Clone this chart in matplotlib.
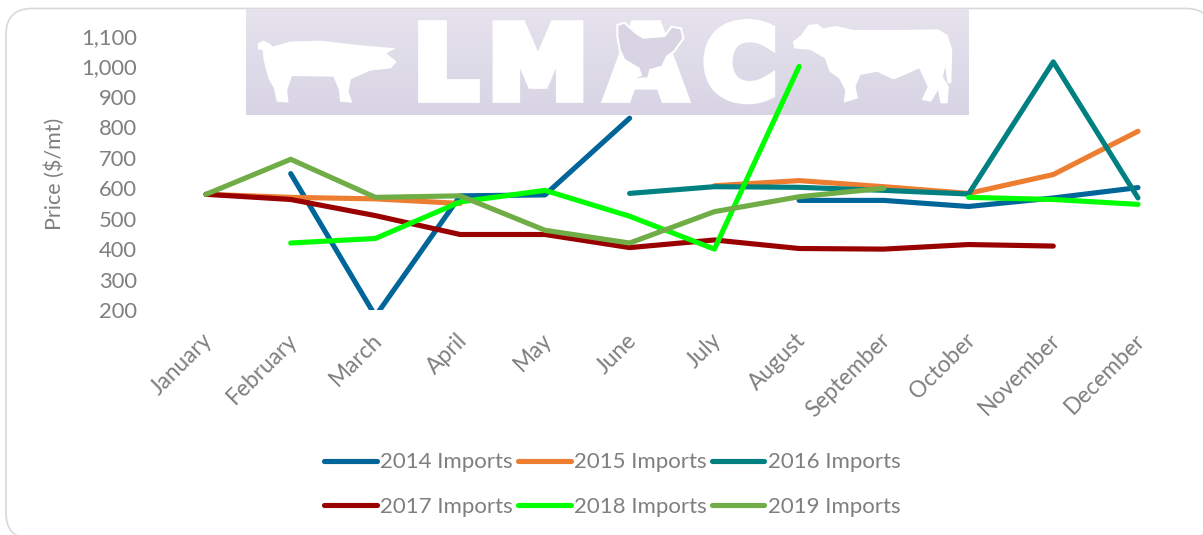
import numpy as np
import matplotlib
matplotlib.use("Agg")
import matplotlib.pyplot as plt
import matplotlib.patheffects as pe
from matplotlib.patches import FancyBboxPatch, Polygon
from matplotlib.transforms import ScaledTranslation

plt.rcParams['font.family'] = ['Lato', 'DejaVu Sans']

W, H = 1203, 535
nan = np.nan

months = ["January", "February", "March", "April", "May", "June", "July",
          "August", "September", "October", "November", "December"]
y_ticks = [200, 300, 400, 500, 600, 700, 800, 900, 1000, 1100]

imports_2014 = [nan, 648, 180, 575, 578, 830, nan, 560, 560, 540, 568, 602]
imports_2015 = [580, 570, 565, 550, nan, nan, 608, 625, 605, 583, 645, 787]
imports_2016 = [nan, nan, nan, nan, nan, 583, 605, 603, 593, 581, 1015, 568]
imports_2017 = [580, 563, 510, 448, 448, 405, 430, 402, 400, 415, 410, nan]
imports_2018 = [nan, 420, 435, 555, 593, 508, 400, 1000, nan, 570, 563, 547]
imports_2019 = [580, 695, 570, 575, 462, 420, 523, 572, 600, nan, nan, nan]

series_names = ["2014 Imports", "2015 Imports", "2016 Imports",
                "2017 Imports", "2018 Imports", "2019 Imports"]
series_vals = [imports_2014, imports_2015, imports_2016,
               imports_2017, imports_2018, imports_2019]
series_cols = ["#006699", "#ED7D31", "#008080", "#990000", "#00FF00", "#70AD47"]

grey = "#7F7F7F"

fig = plt.figure(figsize=(W / 100, H / 100), dpi=100)

# background layer in pixel coordinates, frame + logo
bg = fig.add_axes([0, 0, 1, 1], zorder=0)
bg.axis("off")
bg.add_patch(FancyBboxPatch((6, 8.5), 1206, 530.5, boxstyle="round,pad=0,rounding_size=26",
                            fc="white", ec="#D9D9D9", lw=1.2))

grad = np.linspace(0, 1, 64)[:, None, None]
top = np.array([230, 227, 238]) / 255
bot = np.array([216, 212, 228]) / 255
bg.imshow(top + (bot - top) * grad, extent=(246, 969, 115, 9), aspect="auto", zorder=2)
bg.set_xlim(0, W)
bg.set_ylim(H, 0)

pig = [(38,130),(50,122),(62,130),(70,140),(105,125),(170,122),(250,135),(330,145),(310,160),
       (332,185),(320,205),(275,212),(235,238),(230,275),(238,308),(212,305),(210,270),(198,230),
       (110,228),(100,270),(103,308),(78,305),(72,265),(60,235),(50,180),(48,150),(38,148)]
cow = [(1172,125),(1190,105),(1205,75),(1225,72),(1235,85),(1265,78),(1300,90),(1400,90),(1480,88),
       (1500,105),(1510,150),(1508,250),(1500,250),(1495,200),(1490,230),(1503,260),(1500,310),
       (1485,310),(1480,270),(1465,305),(1445,300),(1458,260),(1440,205),(1400,230),(1385,238),
       (1350,215),(1315,225),(1305,260),(1310,295),(1280,308),(1283,270),(1270,235),(1250,215),
       (1240,175),(1210,150),(1175,145)]
hen = [(800,75),(815,68),(840,100),(855,113),(900,108),(915,80),(935,85),(940,115),(920,155),
       (905,170),(895,200),(870,210),(865,235),(825,238),(850,225),(845,205),(815,180),(805,150),
       (800,110)]

def to_px(pts):
    return [(240 + x / 2.12, y / 3) for x, y in pts]

bg.add_patch(Polygon(to_px(pig), fc="white", ec="none", zorder=3))
bg.add_patch(Polygon(to_px(cow), fc="white", ec="none", zorder=3))
for ch, cx in zip("LMAC", [446, 538, 646, 740]):
    bg.text(cx, 98, ch, color="white", fontsize=72, fontweight="bold", family="DejaVu Sans",
            ha="center", va="baseline", zorder=3,
            path_effects=[pe.withStroke(linewidth=7, foreground="white", joinstyle="miter")])
bg.add_patch(Polygon(to_px(hen), fc="#D8D4E4", ec="white", lw=1.5, zorder=4))

# chart
x0 = 206 - 84.73 / 2
x1 = 1138 + 84.73 / 2
ax = fig.add_axes([x0 / W, 1 - 310 / H, (x1 - x0) / W, (310 - 36) / H], zorder=1)
ax.patch.set_alpha(0)
x = np.arange(len(months))

lines = []
for name, vals, col in zip(series_names, series_vals, series_cols):
    ln, = ax.plot(x, vals, color=col, lw=3.7, label=name, solid_capstyle="round", solid_joinstyle="round")
    lines.append(ln)

ax.set_xlim(-0.5, 11.5)
ax.set_ylim(200, 1100)
ax.set_yticks(y_ticks)
ax.set_yticklabels([f"{v:,}" for v in y_ticks], fontsize=15.8, color=grey)
ax.set_xticks(x)
ax.set_xticklabels(months, fontsize=16.3, color=grey, rotation=45, ha="right", rotation_mode="anchor")
ax.tick_params(length=0)
ax.tick_params(axis="x", pad=14)
ax.tick_params(axis="y", pad=19)
for s in ax.spines.values():
    s.set_visible(False)
shift = ScaledTranslation(-3 / 72, 0, fig.dpi_scale_trans)
for lab in ax.get_xticklabels():
    lab.set_transform(lab.get_transform() + shift)

fig.text(55 / W, 1 - 174 / H, "Price ($/mt)", rotation=90, fontsize=15.5, color=grey,
         ha="center", va="center")

# legend fills by column, so order handles to read across the rows
order = [0, 3, 1, 4, 2, 5]
leg = ax.legend([lines[i] for i in order], [series_names[i] for i in order],
                loc="center", bbox_to_anchor=(612.5 / W, 1 - 484.5 / H), bbox_transform=fig.transFigure,
                ncol=3, frameon=False, fontsize=16, handlelength=2.35, handletextpad=0.15,
                columnspacing=0.25, labelspacing=1.1, borderpad=0)
for t in leg.get_texts():
    t.set_color(grey)

fig.savefig("out.png", dpi=100)
